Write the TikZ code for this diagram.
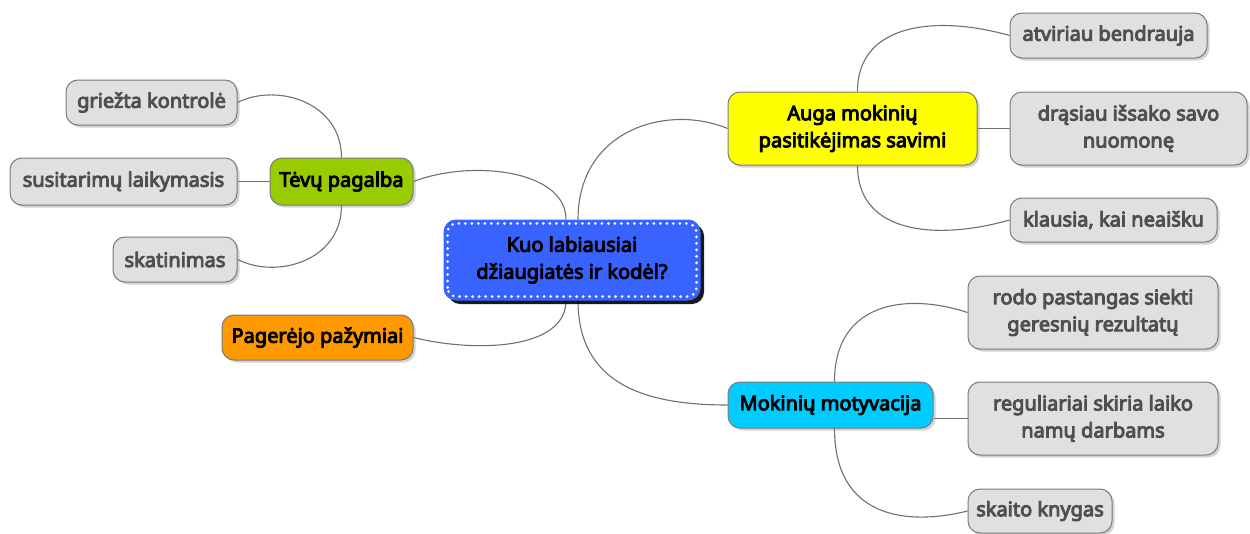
\documentclass[tikz,border=0pt]{standalone}
\usepackage{fontspec}
\setmainfont{Noto Sans}[AutoFakeBold=4.6]
\usetikzlibrary{shadows,calc,backgrounds}
\definecolor{leafgray}{HTML}{E0E0E0}
\definecolor{leaftext}{HTML}{4F4F4F}
\definecolor{edgegray}{HTML}{7A7A7A}
\definecolor{linegray}{HTML}{707070}
\definecolor{cblue}{HTML}{3963FF}
\definecolor{cgreen}{HTML}{99CC00}
\definecolor{corange}{HTML}{FF9900}
\definecolor{ccyan}{HTML}{00CCFF}
\definecolor{cyellow}{HTML}{FFFF00}
\tikzset{
  base/.style={rounded corners=12pt, draw=edgegray, line width=1pt, align=center,
    font=\fontsize{20}{27}\selectfont\bfseries, inner sep=0pt,
    drop shadow={shadow xshift=2.5pt, shadow yshift=-2.5pt, opacity=0.35}},
  leaf/.style={base, fill=leafgray, text=leaftext},
  branch/.style={base, text=black},
  conn/.style={draw=linegray, line width=1.1pt},
  rootbox/.style={rounded corners=12pt, draw=cblue, fill=cblue, line width=1pt, align=center,
    font=\fontsize{20}{27}\selectfont\bfseries, inner sep=0pt, text=black,
    drop shadow={fill=black, opacity=0.9, shadow xshift=4pt, shadow yshift=-4pt}},
}
\begin{document}
\begin{tikzpicture}[x=1pt,y=-1pt]
\useasboundingbox (0,0) rectangle (1250,533);
% root
\node[rootbox, minimum width=256pt, minimum height=80pt] (c) at (572,260) {Kuo labiausiai\\džiaugiatės ir kodėl?};
\draw[white, line width=3pt, line cap=round, dash pattern=on 0pt off 6.5pt, rounded corners=9pt]
  ($(c.south west)+(4,-4)$) rectangle ($(c.north east)+(-4,4)$);
% branches
\node[branch, fill=cgreen, minimum width=143pt, minimum height=47pt] (tp) at (341.5,181.5) {Tėvų pagalba};
\node[branch, fill=corange, minimum width=191pt, minimum height=45pt] (pp) at (317.5,337.5) {Pagerėjo pažymiai};
\node[branch, fill=cyellow, minimum width=249pt, minimum height=73pt] (am) at (852.5,128.5) {Auga mokinių\\pasitikėjimas savimi};
\node[branch, fill=ccyan, minimum width=205pt, minimum height=46pt] (mm) at (830.5,405) {Mokinių motyvacija};
% leaves
\node[leaf, minimum width=171pt, minimum height=45pt] (g) at (151.5,102.5) {griežta kontrolė};
\node[leaf, minimum width=227pt, minimum height=47pt] (s) at (123.5,181.5) {susitarimų laikymasis};
\node[leaf, minimum width=124pt, minimum height=45pt] (sk) at (175,259.5) {skatinimas};
\node[leaf, minimum width=197pt, minimum height=45pt] (ab) at (1108.5,35.5) {atviriau bendrauja};
\node[leaf, minimum width=237pt, minimum height=73pt] (dr) at (1128.5,128.5) {drąsiau išsako savo\\nuomonę};
\node[leaf, minimum width=207pt, minimum height=44pt] (kl) at (1113.5,220) {klausia, kai neaišku};
\node[leaf, minimum width=250pt, minimum height=73pt] (ro) at (1093,312.5) {rodo pastangas siekti\\geresnių rezultatų};
\node[leaf, minimum width=250pt, minimum height=73pt] (re) at (1093,418.5) {reguliariai skiria laiko\\namų darbams};
\node[leaf, minimum width=144pt, minimum height=44pt] (ka) at (1040,511) {skaito knygas};
% connectors
\begin{scope}[on background layer]
\draw[conn] (tp.east) .. controls +(57,-22) and +(0,-50) .. ($(c.north)+(-6,0)$);
\draw[conn] ($(c.north)+(6,0)$) .. controls +(0,-90) and +(-60,-25) .. (am.west);
\draw[conn] (pp.east) .. controls +(60,15) and +(0,50) .. ($(c.south)+(-6,0)$);
\draw[conn] ($(c.south)+(6,0)$) .. controls +(0,85) and +(-80,0) .. (mm.west);
\draw[conn] (g.east) .. controls +(40,-20) and +(0,-55) .. (tp.north);
\draw[conn] (s.east) -- (tp.west);
\draw[conn] (sk.east) .. controls +(40,20) and +(0,55) .. (tp.south);
\draw[conn] ($(am.north)+(5,0)$) .. controls +(0,-70) and +(-70,-20) .. (ab.west);
\draw[conn] (am.east) -- (dr.west);
\draw[conn] ($(am.south)+(5,0)$) .. controls +(0,70) and +(-70,20) .. (kl.west);
\draw[conn] ($(mm.north)+(4,0)$) .. controls +(0,-80) and +(-60,-20) .. (ro.west);
\draw[conn] (mm.east |- re.west) -- (re.west);
\draw[conn] ($(mm.south)+(4,0)$) .. controls +(0,90) and +(-60,15) .. (ka.west);
\end{scope}
\end{tikzpicture}
\end{document}
